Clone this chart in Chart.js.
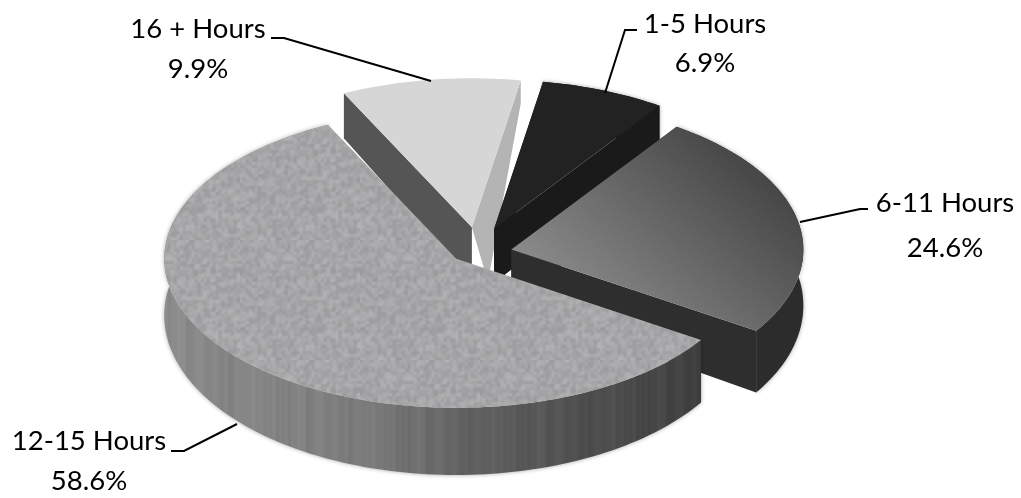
<!DOCTYPE html>
<html>
<head>
<meta charset="utf-8">
<title>Hours</title>
<script src="https://cdn.jsdelivr.net/npm/chart.js@4"></script>
<style>
  html, body { margin: 0; padding: 0; background: #fff; }
  #wrap { width: 1021px; height: 498px; }
</style>
</head>
<body>
<div id="wrap"><canvas id="pieChart" width="1021" height="498"></canvas></div>
<script>
const categories = ['1-5 Hours', '6-11 Hours', '12-15 Hours', '16 + Hours'];
const shares = [6.9, 24.6, 58.6, 9.9];

// how far each slice is pulled out, px along its mid angle
const explode = [43, 34, 29, 43];
const drop = [0, 4, 0, 0];
const drawOrder = [3, 0, 1, 2];

// 3d look
const RADIUS = 292;
const SQUASH = 149 / 292;
const depthAt = y => 45 + (y - 94) * 0.0707;

const labelStyle = [
    { x: 705, y: 33, py: 72, line: [[637, 30], [625, 30], [605, 93]] },
    { x: 945, y: 212, py: 257, line: [[868, 209], [860, 209], [800, 222]] },
    { x: 89, y: 450, py: 490, line: [[171, 451], [184, 451], [237, 424]] },
    { x: 198, y: 38, py: 78, line: [[271, 38], [284, 38], [431, 81]] }
];

// deterministic noise for the tile textures
function noise(i, j) {
    const s = Math.sin(i * 127.1 + j * 311.7) * 43758.5453;
    return s - Math.floor(s);
}

function speckleTile(ctx) {
    const size = 120;
    const c = document.createElement('canvas');
    c.width = c.height = size;
    const t = c.getContext('2d');
    t.fillStyle = '#a6a6a9';
    t.fillRect(0, 0, size, size);
    t.filter = 'blur(1.3px)';
    for (let i = 0; i < size; i += 3) {
        for (let j = 0; j < size; j += 3) {
            const g = 152 + Math.round(noise(i, j) * 30);
            t.fillStyle = `rgb(${g},${g},${g + 2})`;
            t.fillRect(i, j, 4, 4);
        }
    }
    return ctx.createPattern(c, 'repeat');
}

function streakTile(ctx) {
    const c = document.createElement('canvas');
    c.width = 120;
    c.height = 8;
    const t = c.getContext('2d');
    t.filter = 'blur(1px)';
    for (let i = 0; i < 120; i += 3) {
        const n = noise(i, 3);
        t.fillStyle = n > 0.5 ? `rgba(255,255,255,${(n - 0.5) * 0.12})` : `rgba(0,0,0,${(0.5 - n) * 0.14})`;
        t.fillRect(i, -2, 3, 12);
    }
    return ctx.createPattern(c, 'repeat');
}

function trace(ctx, pts) {
    ctx.beginPath();
    pts.forEach((p, i) => i ? ctx.lineTo(p[0], p[1]) : ctx.moveTo(p[0], p[1]));
    ctx.closePath();
}

function lower(p) {
    return [p[0], p[1] + depthAt(p[1])];
}

// fills per slice, surface and walls
function sliceFills(ctx) {
    const g611 = ctx.createLinearGradient(745, 165, 590, 335);
    g611.addColorStop(0, '#484848');
    g611.addColorStop(1, '#8e8e8e');

    const r1215 = ctx.createLinearGradient(160, 0, 700, 0);
    r1215.addColorStop(0, '#8c8c8c');
    r1215.addColorStop(0.35, '#7e7e7e');
    r1215.addColorStop(0.62, '#5c5c5c');
    r1215.addColorStop(1, '#3e3e3e');

    return [
        { top: '#222222', start: '#1c1c1c', end: '#1a1a1a', rim: '#1c1c1c' },
        { top: g611, start: '#262626', end: '#2e2e2e', rim: '#2c2c2c' },
        { top: speckleTile(ctx), rim: r1215, streak: true },
        { top: '#d6d6d6', start: '#555555', end: '#b4b4b4', endWall: [16, 23] }
    ];
}

const pie3d = {
    id: 'pie3d',
    beforeDatasetDraw(chart) {
        const ctx = chart.ctx;
        const arcs = chart.getDatasetMeta(0).data;
        const fills = sliceFills(ctx);
        const streaks = streakTile(ctx);

        drawOrder.forEach(i => {
            const arc = arcs[i];
            const mid = (arc.startAngle + arc.endAngle) / 2;
            const off = arc.options.offset;
            const cx = arc.x + Math.cos(mid) * off;
            const cy = arc.y + Math.sin(mid) * off * SQUASH + drop[i];
            const n = Math.ceil((arc.endAngle - arc.startAngle) * 40);
            const rim = [];
            for (let k = 0; k <= n; k++) {
                const a = arc.startAngle + (arc.endAngle - arc.startAngle) * k / n;
                rim.push([cx + Math.cos(a) * arc.outerRadius, cy + Math.sin(a) * arc.outerRadius * SQUASH]);
            }
            const apex = [cx, cy];
            const f = fills[i];

            ctx.save();
            ctx.filter = 'blur(0.5px)';
            // outer wall, soft shadow at its edge
            if (f.rim) {
                const rimWall = rim.concat(rim.map(lower).reverse());
                ctx.shadowColor = 'rgba(0,0,0,0.35)';
                ctx.shadowBlur = 4;
                ctx.fillStyle = f.rim;
                trace(ctx, rimWall);
                ctx.fill();
                ctx.shadowBlur = 0;
                if (f.streak) {
                    ctx.fillStyle = streaks;
                    trace(ctx, rimWall);
                    ctx.fill();
                }
            }

            // the two cut walls, the big slice hides its own
            const first = rim[0];
            const last = rim[rim.length - 1];
            if (f.start) {
                ctx.fillStyle = f.start;
                trace(ctx, [apex, first, lower(first), lower(apex)]);
                ctx.fill();
                ctx.fillStyle = f.end;
                if (f.endWall) {
                    const la = lower(apex);
                    trace(ctx, [apex, last, [last[0], last[1] + f.endWall[1]], [la[0] + f.endWall[0], la[1]]]);
                } else {
                    trace(ctx, [apex, last, lower(last), lower(apex)]);
                }
                ctx.fill();
            }

            // top face
            ctx.fillStyle = f.top;
            trace(ctx, [apex].concat(rim));
            ctx.fill();
            ctx.restore();
        });
        return false;
    },
    afterDraw(chart) {
        const ctx = chart.ctx;
        ctx.save();
        ctx.strokeStyle = '#000';
        ctx.lineWidth = 2;
        ctx.fillStyle = '#000';
        ctx.font = '27.5px Lato';
        ctx.textAlign = 'center';
        ctx.textBaseline = 'alphabetic';
        categories.forEach((name, i) => {
            const s = labelStyle[i];
            ctx.beginPath();
            s.line.forEach((p, k) => k ? ctx.lineTo(p[0], p[1]) : ctx.moveTo(p[0], p[1]));
            ctx.stroke();
            ctx.fillText(name, s.x, s.y);
            ctx.fillText(shares[i].toFixed(1) + '%', s.x, s.py);
        });
        ctx.restore();
    }
};

new Chart(document.getElementById('pieChart'), {
    type: 'pie',
    data: {
        labels: categories,
        datasets: [{
            data: shares,
            offset: explode,
            borderWidth: 0,
            backgroundColor: ['#222222', '#6b6b6b', '#a6a6a9', '#d6d6d6']
        }]
    },
    options: {
        responsive: false,
        animation: false,
        rotation: 9.64,
        radius: RADIUS,
        layout: { padding: { right: 65 } },
        events: [],
        plugins: {
            legend: { display: false },
            tooltip: { enabled: false }
        }
    },
    plugins: [pie3d]
});
</script>
</body>
</html>
